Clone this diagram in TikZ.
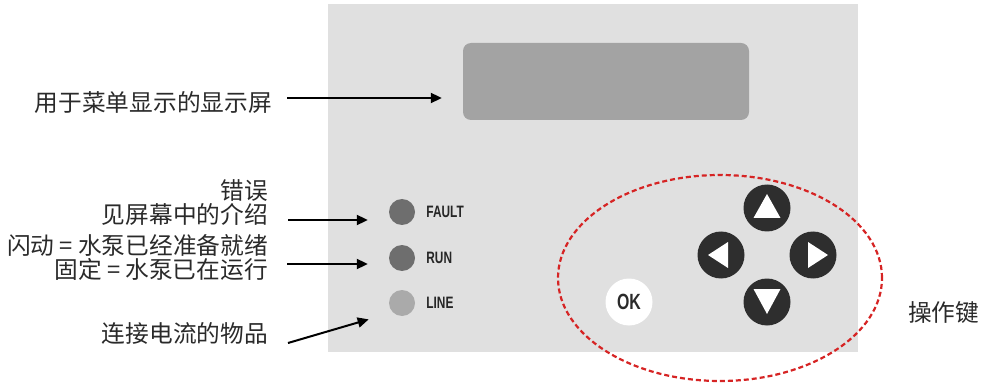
\documentclass[tikz,border=0pt]{standalone}
\usepackage{fontspec}
\usetikzlibrary{arrows.meta,positioning,shapes.geometric}
\newfontfamily\cjk{Noto Sans CJK SC}
\newfontfamily\panelfont{Liberation Sans}[FakeStretch=0.72]
\definecolor{panelgray}{HTML}{E0E0E0}
\definecolor{screengray}{HTML}{A3A3A3}
\definecolor{leddark}{HTML}{6E6E6E}
\definecolor{ledlight}{HTML}{AAAAAA}
\definecolor{keydark}{HTML}{2E2E2E}
\definecolor{inktext}{HTML}{2A2A2A}
\definecolor{ringred}{HTML}{D62424}
\begin{document}
\begin{tikzpicture}[
    x=1pt,y=-1pt,
    every node/.style={inner sep=0pt},
    note/.style={font=\cjk\fontsize{23.7}{24}\selectfont, text=inktext, align=right, anchor=east},
    led/.style={circle, minimum size=26pt},
    ledlabel/.style={font=\panelfont\bfseries\fontsize{16.5}{16}\selectfont, text=black!85, anchor=west},
    navkey/.style={circle, fill=keydark, minimum size=47pt},
    okkey/.style={circle, fill=white, minimum size=47pt, font=\panelfont\bfseries\fontsize{22}{22}\selectfont, text=inktext},
    keyring/.style={ellipse, draw=ringred, line width=2.2pt, dash pattern=on 5pt off 3pt, minimum width=324pt, minimum height=206pt},
    pointer/.style={-{Triangle[length=11pt,width=10pt]}, line width=2pt, draw=black}
]
    \useasboundingbox (0,0) rectangle (984,387);

    % panel and display
    \fill[panelgray] (328,4) rectangle (858,352);
    \node[fill=screengray, rounded corners=8pt, minimum width=286pt, minimum height=77pt] (display) at (606,81.5) {};

    % indicator lamps
    \node[led, fill=leddark] (fault) at (402,212) {};
    \node[led, fill=leddark] (run) at (402,258) {};
    \node[led, fill=ledlight] (line) at (402,303) {};
    \node[ledlabel, right=11pt of fault] (faultlbl) {FAULT};
    \node[ledlabel, right=11pt of run] (runlbl) {RUN};
    \node[ledlabel, right=11pt of line] (linelbl) {LINE};

    % keys
    \node[navkey] (up) at (767,208) {};
    \node[navkey] (left) at (721,255) {};
    \node[navkey] (right) at (813,255) {};
    \node[navkey] (down) at (767,302) {};
    \node[okkey] (ok) at (629,302) {OK};
    \fill[white] (up.center) ++(0,-14) -- ++(13.5,24) -- ++(-27,0) -- cycle;
    \fill[white] (down.center) ++(0,12) -- ++(13.5,-25) -- ++(-27,0) -- cycle;
    \fill[white] (left.center) ++(-13,0) -- ++(20,-13) -- ++(0,26) -- cycle;
    \fill[white] (right.center) ++(15,0) -- ++(-20,-13) -- ++(0,26) -- cycle;
    \node[keyring] (keys) at (720,278) {};

    % notes
    \node[note] (menu) at (272,103) {用于菜单显示的显示屏};
    \node[note] (errA) at (268,191) {错误};
    \node[note] (errB) at (268,214) {见屏幕中的介绍};
    \node[note] (runnote) at (268,258) {闪动 = 水泵已经准备就绪\\固定 = 水泵已在运行};
    \node[note] (item) at (268,333) {连接电流的物品};
    \node[note, anchor=west] (keynote) at (908,313) {操作键};

    \coordinate (menutail) at ([yshift=5pt]menu.east);
    \coordinate (faulttail) at ([yshift=-6pt]errB.east);
    \coordinate (runtail) at ([yshift=-6pt]runnote.east);
    \draw[pointer, shorten <=15pt, shorten >=21pt] (menutail) -- (menutail -| display.west);
    \draw[pointer, shorten <=20pt, shorten >=21pt] (faulttail) -- (faulttail -| fault.west);
    \draw[pointer, shorten <=19pt, shorten >=21pt] (runtail) -- (runtail -| run.west);
    \draw[pointer, shorten >=25pt] ([xshift=20pt,yshift=-10pt]item.east) -- (line.south west);
\end{tikzpicture}
\end{document}
